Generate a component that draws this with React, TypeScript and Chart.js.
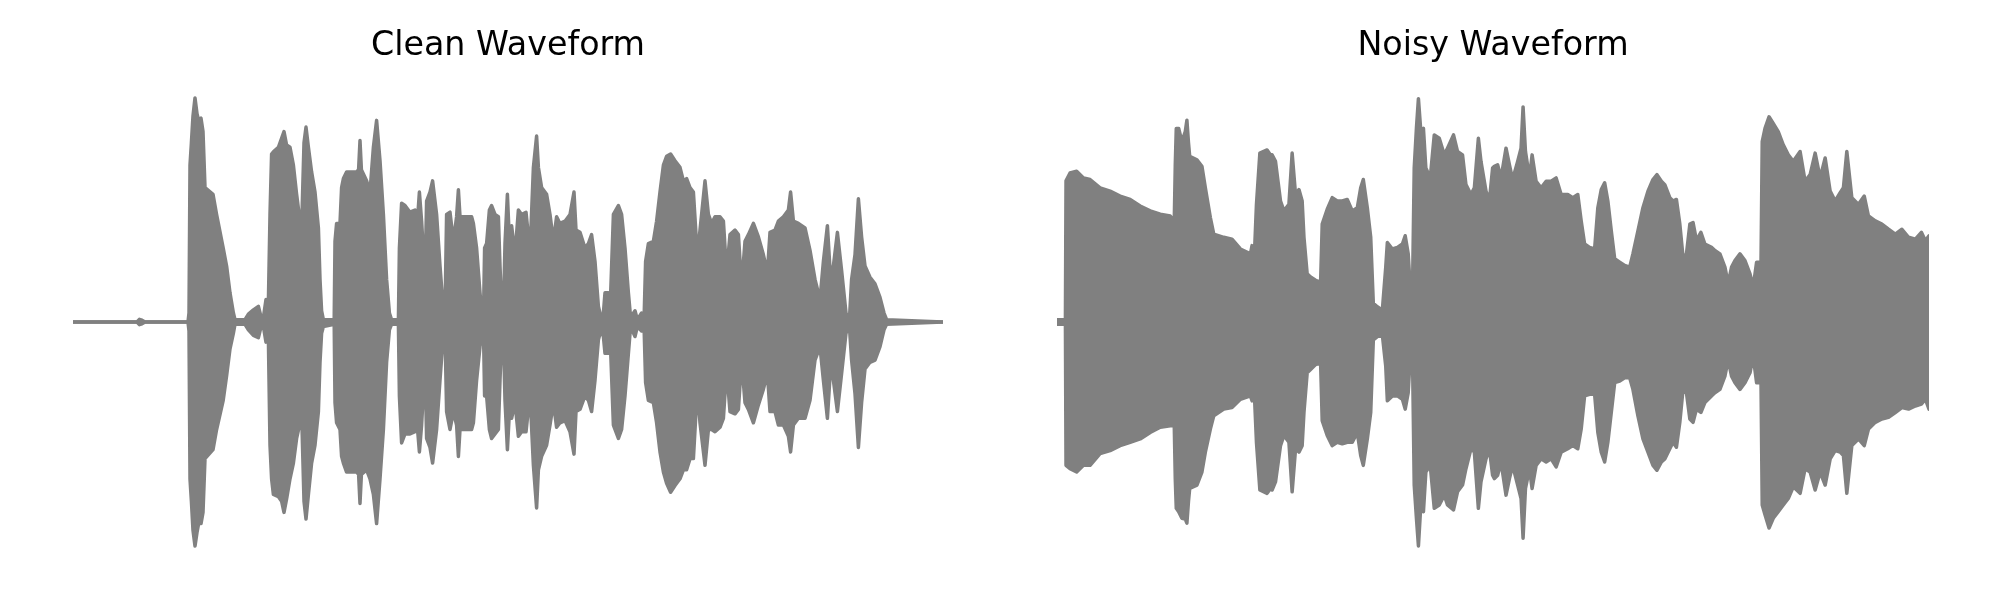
import React, { useEffect, useRef } from "react";
import { Chart, registerables } from "chart.js";

Chart.register(...registerables);

// ---- Data (time in ms, amplitude normalised) ----
const DURATION_MS = 4350;

const cleanTime = [
  0, 320, 332, 345, 360, 575, 580, 585, 592, 600, 610, 620, 628, 640, 650, 660, 700, 718, 751, 768, 785, 802, 810, 860,
  877, 902, 927, 938, 952, 965, 977, 985, 993, 1002, 1027, 1043, 1055, 1068, 1085, 1102, 1118, 1135, 1145, 1155,
  1165, 1177, 1193, 1210, 1227, 1235, 1243, 1252, 1306, 1310, 1318, 1335, 1343, 1352, 1368, 1418, 1428, 1435, 1442, 1468,
  1485, 1502, 1518, 1535, 1552, 1568, 1582, 1593, 1627, 1632, 1643, 1660, 1685, 1710, 1722, 1732, 1743, 1760, 1768, 1785,
  1798, 1818, 1835, 1852, 1860, 1868, 1885, 1902, 1918, 1927, 1935, 1993, 2002, 2018, 2035, 2043, 2052, 2058, 2068, 2082,
  2093, 2110, 2127, 2135, 2143, 2152, 2160, 2172, 2182, 2193, 2210, 2227, 2243, 2265, 2285, 2302, 2318, 2327, 2343, 2368,
  2385, 2402, 2418, 2435, 2460, 2485, 2505, 2515, 2535, 2560, 2577, 2593, 2610, 2627, 2640, 2652, 2660, 2677, 2685, 2702,
  2727, 2743, 2760, 2777, 2788, 2810, 2822, 2843, 2855, 2863, 2877, 2902, 2918, 2935, 2952, 2968, 2988, 3010, 3035, 3052,
  3068, 3085, 3102, 3122, 3135, 3160, 3177, 3193, 3210, 3235, 3252, 3268, 3285, 3310, 3327, 3343, 3360, 3377, 3402, 3427,
  3452, 3472, 3485, 3510, 3527, 3552, 3577, 3588, 3602, 3627, 3660, 3685, 3710, 3735, 3752, 3772, 3788, 3802, 3822, 3843,
  3865, 3882, 3893, 3910, 3927, 3943, 3960, 3985, 4010, 4035, 4055, 4068, 4350,
];
const cleanUpper = [
  0, 0, 0.012, 0.008, 0, 0, 0.04, 0.7, 0.8, 0.92, 1.0, 0.93, 0.9, 0.91, 0.85, 0.6, 0.57, 0.48, 0.33, 0.25, 0.13, 0.04, 0.01, 0.01,
  0.035, 0.054, 0.07, 0.03, 0.02, 0.1, 0.09, 0.48, 0.75, 0.76, 0.78, 0.82, 0.85, 0.79, 0.78, 0.7, 0.57, 0.45, 0.48, 0.8,
  0.87, 0.78, 0.67, 0.58, 0.42, 0.19, 0.05, 0.01, 0.01, 0.36, 0.44, 0.44, 0.6, 0.64, 0.67, 0.67, 0.68, 0.81, 0.68, 0.63,
  0.58, 0.78, 0.9, 0.72, 0.48, 0.19, 0.04, 0.01, 0.01, 0.33, 0.53, 0.52, 0.49, 0.5, 0.45, 0.58, 0.45, 0.19, 0.54, 0.58,
  0.63, 0.48, 0.25, 0.05, 0.04, 0.48, 0.49, 0.36, 0.47, 0.59, 0.47, 0.47, 0.44, 0.33, 0.13, 0.05, 0.0, 0.33, 0.35, 0.5,
  0.52, 0.48, 0.47, 0.25, 0.07, 0.04, 0.35, 0.57, 0.36, 0.43, 0.3, 0.5, 0.48, 0.49, 0.31, 0.69, 0.83, 0.69, 0.6, 0.57,
  0.48, 0.36, 0.47, 0.44, 0.45, 0.48, 0.58, 0.41, 0.4, 0.33, 0.35, 0.39, 0.27, 0.07, 0.02, 0.04, 0.13, 0.13, 0.04, 0.48,
  0.52, 0.48, 0.33, 0.13, 0.02, 0.05, 0.01, 0.04, 0.0, 0.27, 0.35, 0.36, 0.45, 0.58, 0.7, 0.74, 0.75, 0.72, 0.69, 0.63,
  0.64, 0.6, 0.58, 0.29, 0.41, 0.63, 0.48, 0.44, 0.47, 0.47, 0.45, 0.22, 0.39, 0.41, 0.39, 0.16, 0.36, 0.39, 0.44, 0.38,
  0.3, 0.22, 0.4, 0.41, 0.45, 0.47, 0.5, 0.58, 0.45, 0.44, 0.42, 0.32, 0.19, 0.1, 0.27, 0.43, 0.19, 0.25, 0.4, 0.23,
  0.04, 0.01, 0.19, 0.3, 0.55, 0.38, 0.25, 0.2, 0.17, 0.11, 0.04, 0.01, 0,
];
const cleanLower = [
  0, 0, -0.012, -0.008, 0, 0, -0.04, -0.7, -0.8, -0.93, -1.0, -0.94, -0.9, -0.9, -0.85, -0.61, -0.57, -0.48, -0.35, -0.24, -0.12, -0.05, -0.01, -0.01,
  -0.035, -0.06, -0.07, -0.03, -0.02, -0.09, -0.08, -0.55, -0.7, -0.77, -0.78, -0.8, -0.85, -0.79, -0.7, -0.63, -0.52, -0.45, -0.47, -0.8,
  -0.88, -0.77, -0.63, -0.55, -0.4, -0.18, -0.05, -0.02, -0.01, -0.36, -0.45, -0.48, -0.6, -0.63, -0.67, -0.67, -0.68, -0.81, -0.68, -0.66,
  -0.7, -0.77, -0.9, -0.7, -0.48, -0.18, -0.035, -0.01, -0.01, -0.33, -0.54, -0.5, -0.5, -0.49, -0.47, -0.58, -0.46, -0.18, -0.52, -0.56,
  -0.63, -0.48, -0.26, -0.05, -0.04, -0.4, -0.48, -0.4, -0.46, -0.6, -0.48, -0.48, -0.45, -0.26, -0.11, -0.06, -0.02, -0.33, -0.33, -0.48,
  -0.52, -0.5, -0.48, -0.26, -0.07, -0.06, -0.35, -0.57, -0.4, -0.43, -0.36, -0.51, -0.49, -0.49, -0.32, -0.64, -0.83, -0.66, -0.6, -0.55,
  -0.46, -0.36, -0.47, -0.45, -0.44, -0.49, -0.59, -0.4, -0.39, -0.33, -0.35, -0.4, -0.26, -0.08, -0.035, -0.065, -0.14, -0.14, -0.05, -0.46,
  -0.52, -0.48, -0.33, -0.14, -0.02, -0.065, -0.02, -0.04, -0.01, -0.27, -0.35, -0.36, -0.45, -0.58, -0.67, -0.72, -0.76, -0.73, -0.7, -0.66,
  -0.66, -0.61, -0.61, -0.29, -0.45, -0.64, -0.48, -0.48, -0.49, -0.47, -0.43, -0.21, -0.4, -0.41, -0.39, -0.17, -0.36, -0.39, -0.45, -0.37,
  -0.3, -0.23, -0.4, -0.4, -0.46, -0.46, -0.51, -0.58, -0.46, -0.43, -0.43, -0.35, -0.17, -0.11, -0.26, -0.43, -0.2, -0.26, -0.4, -0.23,
  -0.05, -0.02, -0.17, -0.32, -0.56, -0.36, -0.21, -0.18, -0.17, -0.11, -0.035, -0.01, 0,
];

const noisyTime = [
  0, 32, 42, 45, 65, 98, 132, 165, 215, 265, 315, 365, 415, 465, 515, 565, 585, 590, 595, 607,
  623, 640, 648, 656, 662, 698, 723, 740, 765, 782, 832, 873, 915, 965, 973, 985, 995, 1012, 1048, 1065,
  1073, 1090, 1115, 1132, 1157, 1173, 1190, 1207, 1223, 1232, 1248, 1265, 1290, 1315, 1323, 1348, 1373, 1398, 1423, 1448,
  1473, 1498, 1515, 1528, 1548, 1565, 1578, 1598, 1623, 1640, 1648, 1673, 1698, 1723, 1737, 1752, 1765, 1773, 1782, 1793,
  1803, 1815, 1828, 1840, 1862, 1882, 1907, 1932, 1948, 1978, 1998, 2023, 2040, 2065, 2082, 2102, 2115, 2140, 2157, 2173,
  2182, 2198, 2215, 2240, 2257, 2273, 2298, 2315, 2325, 2337, 2357, 2370, 2390, 2415, 2440, 2465, 2490, 2515, 2548, 2573,
  2598, 2615, 2632, 2657, 2682, 2698, 2715, 2732, 2748, 2765, 2782, 2807, 2832, 2857, 2873, 2898, 2923, 2948, 2973, 2993,
  3015, 3032, 3057, 3073, 3090, 3107, 3123, 3140, 3157, 3173, 3190, 3212, 3232, 3265, 3282, 3307, 3332, 3348, 3365, 3382,
  3407, 3432, 3457, 3473, 3490, 3512, 3518, 3532, 3552, 3573, 3598, 3623, 3648, 3673, 3707, 3732, 3757, 3782, 3807, 3832,
  3857, 3882, 3907, 3923, 3940, 3965, 3998, 4027, 4048, 4082, 4115, 4148, 4182, 4215, 4248, 4282, 4312, 4332, 4350,
];
const noisyUpper = [
  0.01, 0.01, 0.01, 0.63, 0.665, 0.673, 0.643, 0.636, 0.599, 0.584, 0.562, 0.547, 0.518, 0.496, 0.481, 0.473, 0.451, 0.7, 0.864, 0.864,
  0.805, 0.85, 0.901, 0.8, 0.739, 0.724, 0.695, 0.599, 0.466, 0.392, 0.378, 0.37, 0.326, 0.304, 0.341, 0.304, 0.525, 0.754, 0.768, 0.746,
  0.746, 0.717, 0.54, 0.496, 0.525, 0.754, 0.569, 0.591, 0.54, 0.378, 0.215, 0.201, 0.186, 0.178, 0.437, 0.503, 0.555, 0.54, 0.54, 0.547,
  0.496, 0.51, 0.599, 0.636, 0.51, 0.378, 0.083, 0.068, 0.053, 0.245, 0.355, 0.326, 0.333, 0.348, 0.385, 0.304, 0.112, 0.112, 0.687, 0.864,
  0.997, 0.85, 0.864, 0.687, 0.643, 0.835, 0.82, 0.746, 0.776, 0.835, 0.761, 0.746, 0.613, 0.569, 0.599, 0.82, 0.717, 0.584, 0.54, 0.687,
  0.695, 0.702, 0.643, 0.776, 0.702, 0.636, 0.717, 0.776, 0.96, 0.761, 0.643, 0.746, 0.628, 0.599, 0.628, 0.628, 0.643, 0.569, 0.569, 0.555,
  0.569, 0.451, 0.348, 0.333, 0.326, 0.51, 0.591, 0.621, 0.54, 0.407, 0.282, 0.267, 0.252, 0.245, 0.304, 0.407, 0.51, 0.584, 0.636, 0.658,
  0.628, 0.613, 0.555, 0.54, 0.547, 0.437, 0.289, 0.304, 0.437, 0.444, 0.363, 0.4, 0.348, 0.333, 0.319, 0.304, 0.245, 0.171, 0.245, 0.274,
  0.304, 0.274, 0.215, 0.156, 0.267, 0.267, 0.805, 0.864, 0.916, 0.886, 0.85, 0.791, 0.746, 0.717, 0.761, 0.628, 0.658, 0.754, 0.643, 0.732,
  0.584, 0.54, 0.577, 0.599, 0.761, 0.555, 0.525, 0.562, 0.473, 0.451, 0.437, 0.414, 0.392, 0.414, 0.378, 0.37, 0.4, 0.363, 0.385,
];
const noisyLower = [
  -0.01, -0.01, -0.01, -0.64, -0.655, -0.67, -0.64, -0.64, -0.588, -0.574, -0.552, -0.537, -0.522, -0.493, -0.47, -0.463, -0.463, -0.7, -0.832, -0.847,
  -0.876, -0.88, -0.898, -0.8, -0.743, -0.728, -0.67, -0.581, -0.478, -0.419, -0.389, -0.382, -0.345, -0.33, -0.352, -0.33, -0.537, -0.75, -0.765, -0.743,
  -0.75, -0.714, -0.552, -0.507, -0.537, -0.758, -0.566, -0.581, -0.552, -0.404, -0.227, -0.212, -0.19, -0.183, -0.441, -0.507, -0.552, -0.537, -0.544, -0.537,
  -0.537, -0.493, -0.596, -0.64, -0.522, -0.404, -0.08, -0.065, -0.057, -0.198, -0.352, -0.33, -0.33, -0.345, -0.389, -0.316, -0.109, -0.124, -0.728, -0.876,
  -1.0, -0.817, -0.847, -0.67, -0.64, -0.832, -0.817, -0.773, -0.817, -0.839, -0.758, -0.728, -0.655, -0.566, -0.581, -0.832, -0.714, -0.611, -0.566, -0.684,
  -0.699, -0.684, -0.625, -0.773, -0.699, -0.64, -0.728, -0.788, -0.965, -0.743, -0.655, -0.743, -0.64, -0.611, -0.625, -0.611, -0.647, -0.581, -0.566, -0.552,
  -0.566, -0.478, -0.33, -0.323, -0.323, -0.493, -0.581, -0.625, -0.537, -0.404, -0.271, -0.264, -0.249, -0.249, -0.301, -0.419, -0.522, -0.581, -0.64, -0.662,
  -0.625, -0.611, -0.566, -0.537, -0.559, -0.448, -0.301, -0.316, -0.433, -0.448, -0.389, -0.404, -0.36, -0.33, -0.316, -0.301, -0.242, -0.168, -0.242, -0.271,
  -0.301, -0.271, -0.227, -0.153, -0.271, -0.271, -0.817, -0.861, -0.92, -0.876, -0.847, -0.817, -0.788, -0.736, -0.765, -0.655, -0.67, -0.75, -0.67, -0.728,
  -0.611, -0.574, -0.581, -0.596, -0.765, -0.552, -0.522, -0.552, -0.478, -0.448, -0.433, -0.426, -0.404, -0.382, -0.389, -0.375, -0.367, -0.345, -0.389,
];

const chartTitles = ["Clean Waveform", "Noisy Waveform"];

// ---- Style ----
const WAVE_COLOR = "#808080";
const Y_LIMIT = 1.009;

type Panel = {
  title: string;
  time: number[];
  upper: number[];
  lower: number[];
  left: number;
  pad: { left: number; right: number };
};

function toPoints(t: number[], v: number[]) {
  return t.map((x, i) => ({ x, y: v[i] }));
}

function WaveChart({ panel }: { panel: Panel }) {
  const ref = useRef<HTMLCanvasElement | null>(null);
  useEffect(() => {
    if (!ref.current) return;
    const common = {
      borderColor: WAVE_COLOR,
      backgroundColor: WAVE_COLOR,
      borderWidth: 3.5,
      pointRadius: 0,
      tension: 0,
      fill: "origin" as const,
      borderJoinStyle: "round" as const,
      borderCapStyle: "round" as const,
    };
    const chart = new Chart(ref.current, {
      type: "line",
      data: {
        datasets: [
          { ...common, label: "upper", data: toPoints(panel.time, panel.upper) },
          { ...common, label: "lower", data: toPoints(panel.time, panel.lower) },
        ],
      },
      options: {
        responsive: false,
        animation: false,
        devicePixelRatio: 1,
        layout: { padding: { left: panel.pad.left, right: panel.pad.right, top: 0, bottom: 52 } },
        scales: {
          x: { type: "linear", min: 0, max: DURATION_MS, display: false },
          y: { type: "linear", min: -Y_LIMIT, max: Y_LIMIT, display: false },
        },
        plugins: {
          legend: { display: false },
          tooltip: { enabled: false },
          title: {
            display: true,
            text: panel.title,
            color: "#000000",
            font: { family: "'DejaVu Sans', sans-serif", size: 33.3, weight: "normal" as any, lineHeight: 1.2 },
            padding: { top: 26, bottom: 30 },
          },
        },
      },
    });
    return () => chart.destroy();
  }, [panel]);
  return (
    <canvas
      ref={ref}
      width={1000}
      height={600}
      style={{ position: "absolute", left: panel.left, top: 0, width: 1000, height: 600 }}
    />
  );
}

const panels: Panel[] = [
  { title: chartTitles[0], time: cleanTime, upper: cleanUpper, lower: cleanLower, left: 0, pad: { left: 73, right: 57 } },
  { title: chartTitles[1], time: noisyTime, upper: noisyUpper, lower: noisyLower, left: 1000, pad: { left: 57, right: 71 } },
];

export default function App() {
  return (
    <div style={{ position: "fixed", left: 0, top: 0, width: 2000, height: 600, background: "#ffffff", overflow: "hidden" }}>
      {panels.map((p) => (
        <WaveChart key={p.title} panel={p} />
      ))}
    </div>
  );
}
